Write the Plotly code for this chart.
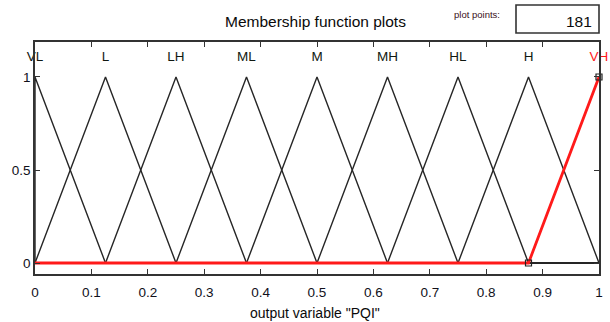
import plotly.graph_objects as go

# Membership functions of the output variable "PQI" (triangular, params a, b, c)
mf_names = ["VL", "L", "LH", "ML", "M", "MH", "HL", "H", "VH"]
mf_a = [-0.125, 0.0, 0.125, 0.25, 0.375, 0.5, 0.625, 0.75, 0.875]
mf_b = [0.0, 0.125, 0.25, 0.375, 0.5, 0.625, 0.75, 0.875, 1.0]
mf_c = [0.125, 0.25, 0.375, 0.5, 0.625, 0.75, 0.875, 1.0, 1.125]
selected = "VH"
x_range = [0.0, 1.0]
x_ticks = [0, 0.1, 0.2, 0.3, 0.4, 0.5, 0.6, 0.7, 0.8, 0.9, 1]
y_ticks = [0, 0.5, 1]
plot_points = 181

FONT = "Liberation Sans, Arial, sans-serif"
W, H = 610, 322
L, R, T, B = 35, 11, 42, 48


def px_x(p):
    return (p - L) / (W - L - R)


def px_y(p):
    return (H - B - p) / (H - T - B)


def mf_vertices(a, b, c):
    lo, hi = x_range
    xs, ys = [], []
    if a > lo:
        xs.append(lo); ys.append(0.0)
    for x, y in ((a, 0.0), (b, 1.0), (c, 0.0)):
        if lo <= x <= hi:
            xs.append(x); ys.append(y)
    # clipped ends: evaluate triangle at the domain edge
    if a < lo:
        xs.insert(0, lo); ys.insert(0, (b - lo) / (b - a) if lo < b else 0.0)
    if c > hi:
        xs.append(hi); ys.append((c - hi) / (c - b) if hi > b else 1.0)
    if c < hi:
        xs.append(hi); ys.append(0.0)
    return xs, ys


fig = go.Figure()

order = [n for n in mf_names if n != selected] + [selected]
for name in order:
    i = mf_names.index(name)
    xs, ys = mf_vertices(mf_a[i], mf_b[i], mf_c[i])
    sel = name == selected
    fig.add_trace(go.Scatter(
        x=xs, y=ys, mode="lines",
        line=dict(color="#ff1a1a" if sel else "#262626", width=2.8 if sel else 1.4),
        hoverinfo="skip", showlegend=False,
    ))

# handles on the selected function
si = mf_names.index(selected)
fig.add_trace(go.Scatter(
    x=[mf_a[si], mf_b[si]], y=[0, 1], mode="markers",
    marker=dict(symbol="square-open", size=6, color="#222", line=dict(width=1.2)),
    cliponaxis=False, hoverinfo="skip", showlegend=False,
))

# function names above each peak
fig.add_trace(go.Scatter(
    x=mf_b, y=[1.105] * len(mf_b), mode="text", text=mf_names,
    textfont=dict(family=FONT, size=13.5,
                  color=["#ff1a1a" if n == selected else "#101810" for n in mf_names]),
    cliponaxis=False, hoverinfo="skip", showlegend=False,
))

axis_common = dict(
    showgrid=False, zeroline=False, showline=True, linecolor="#333333", linewidth=1.6,
    mirror="ticks", ticks="inside", ticklen=5, tickcolor="#333333", tickwidth=1.3,
    tickfont=dict(family=FONT, size=13.5, color="#10101a"), automargin=False,
)

fig.update_layout(
    width=W, height=H,
    margin=dict(l=L, r=R, t=T, b=B),
    paper_bgcolor="white", plot_bgcolor="white",
    xaxis=dict(range=x_range, tickvals=x_ticks, ticktext=[f"{v:g}" for v in x_ticks],
               ticklabelstandoff=5, **axis_common),
    yaxis=dict(range=[-0.059, 1.188], tickvals=y_ticks, ticktext=[f"{v:g}" for v in y_ticks],
               **axis_common),
    annotations=[
        dict(text="Membership function plots", x=px_x(315), y=px_y(22), xref="paper", yref="paper",
             showarrow=False, xanchor="center", yanchor="middle",
             font=dict(family=FONT, size=15.5, color="#0a0a0a")),
        dict(text="plot points:", x=px_x(452), y=px_y(15), xref="paper", yref="paper",
             showarrow=False, xanchor="left", yanchor="middle",
             font=dict(family=FONT, size=9.5, color="#3a1020")),
        dict(text=str(plot_points), x=px_x(594), y=px_y(21), xref="paper", yref="paper",
             showarrow=False, xanchor="right", yanchor="middle",
             font=dict(family=FONT, size=15.5, color="#0a0a0a")),
        dict(text='output variable "PQI"', x=px_x(315), y=px_y(313), xref="paper", yref="paper",
             showarrow=False, xanchor="center", yanchor="middle",
             font=dict(family=FONT, size=14, color="#0a0a0a")),
    ],
    shapes=[
        dict(type="rect", xref="paper", yref="paper",
             x0=px_x(516), x1=px_x(599), y0=px_y(33), y1=px_y(5),
             line=dict(color="#333333", width=1.6), fillcolor="white", layer="below"),
    ],
)

fig.write_html("out.html")
